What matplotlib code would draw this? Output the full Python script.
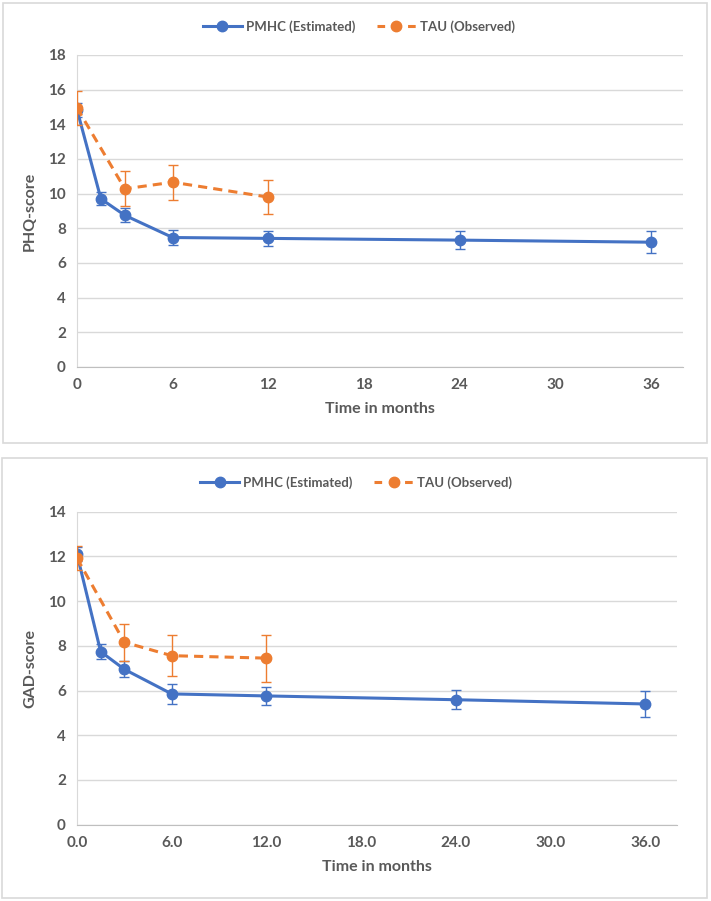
import matplotlib.pyplot as plt
from matplotlib.patches import Rectangle
from matplotlib.lines import Line2D
from matplotlib.ticker import FormatStrFormatter

# --- data ---
pmhc_months = [0, 1.5, 3, 6, 12, 24, 36]
tau_months = [0, 3, 6, 12]

phq_pmhc = [14.85, 9.70, 8.75, 7.47, 7.42, 7.32, 7.20]
phq_pmhc_err = [0.40, 0.37, 0.40, 0.46, 0.45, 0.50, 0.64]
phq_tau = [14.95, 10.28, 10.66, 9.80]
phq_tau_err = [1.00, 1.00, 1.00, 1.00]

gad_pmhc = [12.10, 7.74, 6.95, 5.85, 5.76, 5.59, 5.40]
gad_pmhc_err = [0.30, 0.35, 0.36, 0.43, 0.40, 0.43, 0.57]
gad_tau = [11.92, 8.16, 7.56, 7.45]
gad_tau_err = [0.55, 0.82, 0.92, 1.05]

x_ticks = [0, 6, 12, 18, 24, 30, 36]

BLUE = '#4472C4'
ORANGE = '#ED7D31'
TEXT = '#595959'
GRID = '#D9D9D9'
TAU_DASH = (0, (3, 2))

plt.rcParams['font.family'] = ['Lato', 'DejaVu Sans']
plt.rcParams['font.weight'] = 'bold'

fig = plt.figure(figsize=(7.11, 9.01), dpi=100)

# panel frames (pixel boxes converted to figure fractions)
W, H = 711, 901
for x0, y0, x1, y1 in [(3, 3, 707, 443), (2, 458, 707, 898)]:
    fig.patches.append(Rectangle((x0 / W, 1 - y1 / H), (x1 - x0) / W, (y1 - y0) / H,
                                 transform=fig.transFigure, facecolor='none',
                                 edgecolor=GRID, linewidth=1.2, zorder=-1))


def draw_panel(ax, pmhc, pmhc_err, tau, tau_err, ymax, ylabel, tick_fmt):
    ax.errorbar(pmhc_months, pmhc, yerr=pmhc_err, color=BLUE, lw=2.2,
                marker='o', ms=7.5, elinewidth=1, capsize=3.5, capthick=1, zorder=3)
    ax.errorbar(tau_months, tau, yerr=tau_err, color=ORANGE, lw=2.2,
                ls=TAU_DASH, marker='o', ms=7.5, elinewidth=1, capsize=3.5,
                capthick=1, zorder=4)

    ax.set_xlim(0, 38)
    ax.set_ylim(0, ymax)
    ax.set_xticks(x_ticks)
    ax.set_yticks(range(0, ymax + 1, 2))
    ax.xaxis.set_major_formatter(FormatStrFormatter(tick_fmt))
    ax.grid(axis='y', color=GRID, lw=1)
    ax.set_axisbelow(True)
    for side in ['top', 'right']:
        ax.spines[side].set_visible(False)
    ax.spines['left'].set_color(GRID)
    ax.spines['bottom'].set_color('#BFBFBF')
    ax.tick_params(length=0, labelsize=11, colors=TEXT, pad=8)
    ax.set_xlabel('Time in months', fontsize=11.5, color=TEXT, fontweight='bold', labelpad=7)
    ax.set_ylabel(ylabel, fontsize=11.5, color=TEXT, fontweight='bold', labelpad=8)

    handles = [
        Line2D([], [], color=BLUE, lw=2.2, marker='o', ms=7.5),
        Line2D([], [], color=ORANGE, lw=2.2, ls=(0, (2.5, 2.5)), marker='o', ms=7.5),
    ]
    leg = ax.legend(handles, ['PMHC (Estimated)', 'TAU (Observed)'],
                    loc='lower center', bbox_to_anchor=(0.465, 1.034), ncol=2,
                    frameon=False, fontsize=9.5, handlelength=3.0, columnspacing=1.6,
                    handletextpad=0.3)
    for t in leg.get_texts():
        t.set_color(TEXT)
        t.set_fontweight('bold')


ax1 = fig.add_axes([77 / W, 1 - 367 / H, 606 / W, 312 / H])
draw_panel(ax1, phq_pmhc, phq_pmhc_err, phq_tau, phq_tau_err, 18, 'PHQ-score', '%d')

ax2 = fig.add_axes([77 / W, 1 - 824.7 / H, 600 / W, 313 / H])
draw_panel(ax2, gad_pmhc, gad_pmhc_err, gad_tau, gad_tau_err, 14, 'GAD-score', '%.1f')

fig.savefig('out.png', dpi=100, facecolor='white')
